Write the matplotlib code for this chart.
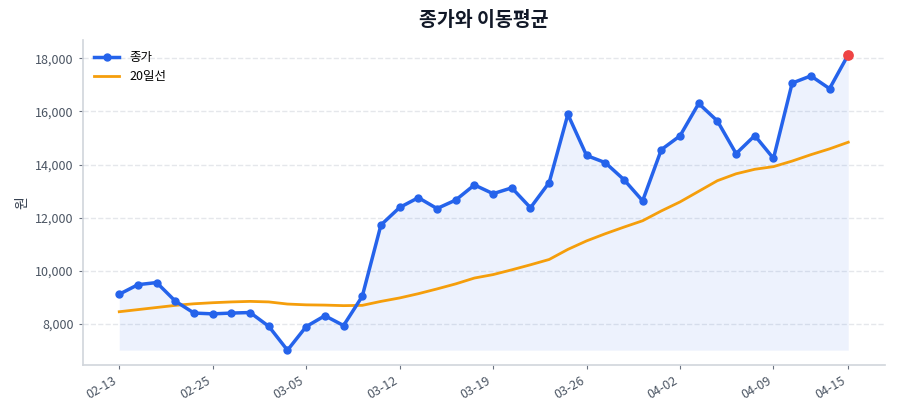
import matplotlib
matplotlib.use('Agg')
import matplotlib.pyplot as plt
import numpy as np
from matplotlib.ticker import FuncFormatter

plt.rcParams['font.family'] = ['Noto Sans CJK KR', 'DejaVu Sans']

# 거래일 (2026, KRX)
dates = ['02-13', '02-19', '02-20', '02-23', '02-24', '02-25', '02-26', '02-27',
         '03-03', '03-04', '03-05', '03-06', '03-09', '03-10', '03-11', '03-12',
         '03-13', '03-16', '03-17', '03-18', '03-19', '03-20', '03-23', '03-24',
         '03-25', '03-26', '03-27', '03-30', '03-31', '04-01', '04-02', '04-03',
         '04-06', '04-07', '04-08', '04-09', '04-10', '04-13', '04-14', '04-15']

close = [9110, 9470, 9550, 8850, 8400, 8370, 8400, 8420, 7900, 7000,
         7890, 8300, 7930, 9030, 11720, 12380, 12750, 12340, 12660, 13230,
         12900, 13120, 12370, 13320, 15890, 14340, 14070, 13430, 12630, 14560,
         15080, 16300, 15640, 14410, 15090, 14230, 17070, 17340, 16860, 18140]

ma20 = [8450, 8530, 8610, 8690, 8750, 8790, 8820, 8840, 8820, 8740,
        8710, 8700, 8680, 8690, 8840, 8970, 9130, 9310, 9500, 9720,
        9850, 10030, 10220, 10420, 10800, 11120, 11390, 11640, 11880, 12250,
        12590, 12990, 13390, 13650, 13820, 13920, 14130, 14370, 14590, 14840]

tick_idx = [0, 5, 10, 15, 20, 25, 30, 35, 39]

x = np.arange(len(dates))
close = np.array(close)
ma20 = np.array(ma20)

fig = plt.figure(figsize=(9, 4.2), dpi=100)
ax = fig.add_axes([0.092, 0.131, 0.891, 0.774])

ax.fill_between(x, close, close.min(), color='#2563eb', alpha=0.08, linewidth=0)
ax.plot(x, close, color='#2563eb', linewidth=2.5, marker='o', markersize=5, label='종가', zorder=3)
ax.plot(x, ma20, color='#f59e0b', linewidth=2, label='20일선', zorder=2)
ax.scatter([x[-1]], [close[-1]], color='#ef4444', s=45, zorder=4)

ax.set_title('종가와 이동평균', fontsize=14, fontweight='bold', color='#111827', pad=10)
ax.set_ylabel('원', fontsize=10, color='#374151')

ax.set_xticks(tick_idx)
ax.set_xticklabels([dates[i] for i in tick_idx], rotation=30, ha='right')
ax.yaxis.set_major_formatter(FuncFormatter(lambda v, p: f'{v:,.0f}'))

ax.grid(axis='y', linestyle='--', color='#e5e7eb', linewidth=1)
ax.set_axisbelow(True)
for s in ['top', 'right']:
    ax.spines[s].set_visible(False)
for s in ['left', 'bottom']:
    ax.spines[s].set_color('#d1d5db')
    ax.spines[s].set_linewidth(1.2)
ax.tick_params(colors='#4b5563', labelsize=9, length=3)
ax.tick_params(axis='both', color='#6b7280')

ax.legend(loc='upper left', frameon=False, fontsize=9)

fig.savefig('out.png', dpi=100)
